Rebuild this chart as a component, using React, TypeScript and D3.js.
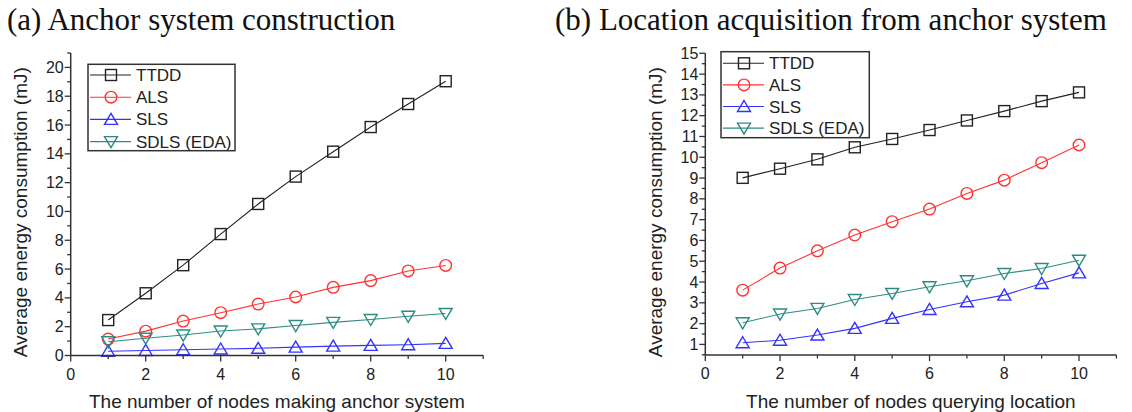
import React from "react";
import * as d3 from "d3";

const xs = [1, 2, 3, 4, 5, 6, 7, 8, 9, 10];
const seriesNames = ["TTDD", "ALS", "SLS", "SDLS (EDA)"];
const seriesColors = ["#222222", "#ff3333", "#3333ff", "#2e8b84"];
const seriesMarkers = ["square", "circle", "triUp", "triDown"];

const leftTTDD = [2.46, 4.32, 6.27, 8.43, 10.52, 12.42, 14.15, 15.86, 17.46, 19.04];
const leftALS = [1.14, 1.69, 2.39, 2.97, 3.57, 4.06, 4.73, 5.2, 5.87, 6.25];
const leftSLS = [0.3, 0.35, 0.4, 0.45, 0.5, 0.58, 0.65, 0.7, 0.75, 0.84];
const leftSDLS = [0.95, 1.2, 1.42, 1.7, 1.85, 2.08, 2.3, 2.5, 2.72, 2.92];

const rightTTDD = [9.01, 9.45, 9.9, 10.48, 10.88, 11.31, 11.77, 12.22, 12.7, 13.12];
const rightALS = [3.61, 4.67, 5.5, 6.26, 6.9, 7.51, 8.26, 8.9, 9.74, 10.59];
const rightSLS = [1.08, 1.2, 1.45, 1.77, 2.25, 2.68, 3.05, 3.37, 3.93, 4.44];
const rightSDLS = [2.04, 2.46, 2.73, 3.16, 3.45, 3.77, 4.06, 4.41, 4.65, 5.05];

const xTicks = [0, 2, 4, 6, 8, 10];
const xMinor = [1, 3, 5, 7, 9, 11];
const leftYTicks = [0, 2, 4, 6, 8, 10, 12, 14, 16, 18, 20];
const leftYMinor = [1, 3, 5, 7, 9, 11, 13, 15, 17, 19, 21];
const rightYTicks = [1, 2, 3, 4, 5, 6, 7, 8, 9, 10, 11, 12, 13, 14, 15];
const rightYMinor = [0.5, 1.5, 2.5, 3.5, 4.5, 5.5, 6.5, 7.5, 8.5, 9.5, 10.5, 11.5, 12.5, 13.5, 14.5];

const SANS = "'Liberation Sans', Arial, sans-serif";
const SERIF = "'Liberation Serif', 'Times New Roman', serif";
const AXIS = "#333333";

function Marker({ type, x, y, color }) {
  const sw = 1.4;
  if (type === "square")
    return <rect x={x - 5.5} y={y - 5.5} width={11} height={11} fill="none" stroke={color} strokeWidth={sw} />;
  if (type === "circle") return <circle cx={x} cy={y} r={5.8} fill="none" stroke={color} strokeWidth={sw} />;
  if (type === "triUp")
    return <path d={`M${x},${y - 6} L${x + 6.5},${y + 5} L${x - 6.5},${y + 5} Z`} fill="none" stroke={color} strokeWidth={sw} />;
  return <path d={`M${x},${y + 6} L${x + 6.5},${y - 5} L${x - 6.5},${y - 5} Z`} fill="none" stroke={color} strokeWidth={sw} />;
}

function Panel({ x0, x1, yTop, yBot, yDomain, yTicks, yMinor, series, legend, xTitle, yTitleX }) {
  const x = d3.scaleLinear().domain([0, 11]).range([x0, x1]);
  const y = d3.scaleLinear().domain(yDomain).range([yBot, yTop]);
  const line = d3
    .line<number>()
    .x((_, i) => x(xs[i]))
    .y((d) => y(d));
  return (
    <g>
      {series.map((s, k) => (
        <path key={"l" + k} d={line(s) || ""} fill="none" stroke={seriesColors[k]} strokeWidth={1.1} />
      ))}
      {series.map((s, k) =>
        s.map((v, i) => <Marker key={"m" + k + "-" + i} type={seriesMarkers[k]} x={x(xs[i])} y={y(v)} color={seriesColors[k]} />)
      )}
      {/* axes */}
      <line x1={x0} x2={x1} y1={yBot} y2={yBot} stroke={AXIS} strokeWidth={1.5} />
      <line x1={x0} x2={x0} y1={yBot} y2={yTop} stroke={AXIS} strokeWidth={1.5} />
      {xTicks.map((t) => (
        <g key={"xt" + t}>
          <line x1={x(t)} x2={x(t)} y1={yBot} y2={yBot + 6} stroke={AXIS} strokeWidth={1.3} />
          <text x={x(t)} y={yBot + 24} textAnchor="middle" fontFamily={SANS} fontSize={16} fill="#222">
            {t}
          </text>
        </g>
      ))}
      {xMinor.map((t) => (
        <line key={"xm" + t} x1={x(t)} x2={x(t)} y1={yBot} y2={yBot + 3.5} stroke={AXIS} strokeWidth={1.3} />
      ))}
      {yTicks.map((t) => (
        <g key={"yt" + t}>
          <line x1={x0 - 6} x2={x0} y1={y(t)} y2={y(t)} stroke={AXIS} strokeWidth={1.3} />
          <text x={x0 - 7} y={y(t) + 5.5} textAnchor="end" fontFamily={SANS} fontSize={16} fill="#222">
            {t}
          </text>
        </g>
      ))}
      {yMinor.map((t) => (
        <line key={"ym" + t} x1={x0 - 3.5} x2={x0} y1={y(t)} y2={y(t)} stroke={AXIS} strokeWidth={1.3} />
      ))}
      <text x={(x(0) + x(11)) / 2} y={408} textAnchor="middle" fontFamily={SANS} fontSize={19} fill="#222">
        {xTitle}
      </text>
      <text
        transform={`translate(${yTitleX},${(yTop + yBot) / 2 + 8}) rotate(-90)`}
        textAnchor="middle"
        fontFamily={SANS}
        fontSize={19}
        fill="#222"
      >
        Average energy consumption (mJ)
      </text>
      {/* legend */}
      <rect x={legend.x} y={legend.y} width={legend.w} height={legend.h} fill="white" stroke={AXIS} strokeWidth={1.5} />
      {seriesNames.map((n, k) => {
        const ry = legend.y + legend.r0 + k * legend.dy;
        return (
          <g key={"lg" + k}>
            <line x1={legend.x + 2} x2={legend.x + 43} y1={ry} y2={ry} stroke={seriesColors[k]} strokeWidth={1.1} />
            <Marker type={seriesMarkers[k]} x={legend.x + 23} y={ry} color={seriesColors[k]} />
            <text x={legend.x + 48} y={ry + 6} fontFamily={SANS} fontSize={17} fill="#222">
              {n}
            </text>
          </g>
        );
      })}
    </g>
  );
}

export default function App() {
  return (
    <svg width={1132} height={412} style={{ position: "absolute", left: 0, top: 0, background: "white" }}>
      <rect x={0} y={0} width={1132} height={412} fill="white" />
      <text x={7} y={30} fontFamily={SERIF} fontSize={31} fill="#111">
        (a) Anchor system construction
      </text>
      <text x={555} y={30} fontFamily={SERIF} fontSize={31} fill="#111">
        (b) Location acquisition from anchor system
      </text>
      <Panel
        x0={70.7}
        x1={483.2}
        yTop={53}
        yBot={355.5}
        yDomain={[0, 21]}
        yTicks={leftYTicks}
        yMinor={leftYMinor}
        series={[leftTTDD, leftALS, leftSLS, leftSDLS]}
        legend={{ x: 88, y: 64.3, w: 147, h: 86.4, r0: 10.7, dy: 22.2 }}
        xTitle="The number of nodes making anchor system"
        yTitleX={27}
      />
      <Panel
        x0={705.3}
        x1={1116.4}
        yTop={53.3}
        yBot={355}
        yDomain={[0.49, 15]}
        yTicks={rightYTicks}
        yMinor={rightYMinor}
        series={[rightTTDD, rightALS, rightSLS, rightSDLS]}
        legend={{ x: 721, y: 51.7, w: 148.3, h: 86, r0: 11.6, dy: 21.6 }}
        xTitle="The number of nodes querying location"
        yTitleX={662}
      />
    </svg>
  );
}
